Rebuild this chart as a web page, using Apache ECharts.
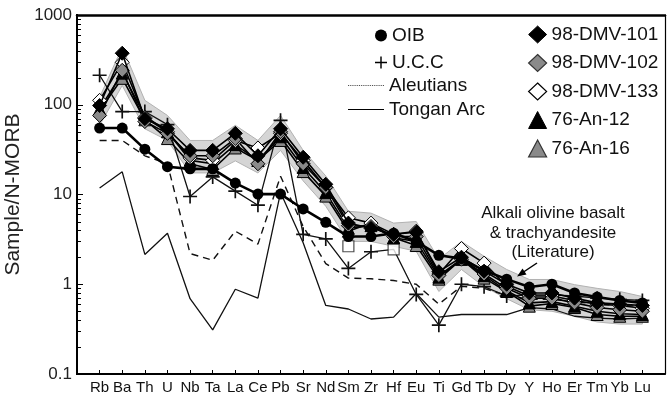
<!DOCTYPE html>
<html>
<head>
<meta charset="utf-8">
<script src="https://cdn.jsdelivr.net/npm/echarts@6/dist/echarts.min.js"></script>
<style>
  html, body { margin: 0; padding: 0; background: #fff; }
  #chart { width: 667px; height: 396px; }
</style>
</head>
<body>
<div id="chart"></div>
<script>
// N-MORB normalised trace-element patterns
const elements = ['Rb','Ba','Th','U','Nb','Ta','La','Ce','Pb','Sr','Nd','Sm','Zr','Hf','Eu','Ti','Gd','Tb','Dy','Y','Ho','Er','Tm','Yb','Lu'];
const yTickLabels = { '0.1': '0.1', '1': '1', '10': '10', '100': '100', '1000': '1000' };

const oib       = [55, 55, 32, 20.4, 19.3, 19.3, 13.4, 10.1, 10.1, 6.9, 4.9, 3.4, 3.4, 3.7, 3.0, 2.1, 1.93, 1.42, 1.14, 0.93, 1.0, 0.8, 0.72, 0.66, 0.62];
const ucc       = [213, 84, 84, 60, 9.5, 15.7, 10.9, 7.6, 67, 3.6, 3.2, 1.5, 2.3, 2.45, 0.77, 0.35, 1.0, 0.94, 0.74, 0.76, 0.76, 0.74, 0.7, 0.68, 0.66];
const aleutians = [40, 40, 27, 22, 2.2, 1.85, 3.9, 2.8, 16, 4.4, 1.7, 1.17, 1.15, 1.1, 1.0, 0.6, 0.95, 0.9, 0.75, 0.68, 0.68, 0.64, 0.6, 0.58, 0.57];
const tongan    = [11.8, 17.9, 2.15, 3.7, 0.69, 0.31, 0.88, 0.70, 10.5, 2.9, 0.58, 0.53, 0.41, 0.43, 0.79, 0.43, 0.46, 0.46, 0.46, 0.55, 0.53, 0.44, 0.42, 0.41, 0.42];

const dmv101 = [98, 375, 70, 54, 31, 31, 48, 27, 54, 26, 13, 4.8, 4.2, 3.6, 3.8, 1.38, 2.0, 1.4, 1.0, 0.8, 0.8, 0.7, 0.62, 0.6, 0.58];
const dmv102 = [76, 242, 65, 48, 27, 27, 42, 22, 50, 22, 12, 4.5, 4.4, 3.4, 3.4, 1.25, 1.9, 1.3, 0.9, 0.7, 0.7, 0.62, 0.55, 0.52, 0.5];
const dmv133 = [112, 297, 72, 50, 25.6, 24, 40, 33, 48, 24, 12, 5.5, 4.8, 3.6, 3.9, 1.3, 2.5, 1.72, 0.95, 0.74, 0.74, 0.66, 0.6, 0.58, 0.54];
const an12   = [90, 225, 75, 50, 24, 22, 36, 24, 44, 20, 10.5, 4.2, 4.5, 3.3, 3.0, 1.2, 1.9, 1.25, 0.85, 0.62, 0.64, 0.57, 0.5, 0.47, 0.46];
const an16   = [86, 197, 68, 42, 22, 19, 33, 24, 40, 18, 9.6, 3.9, 4.8, 3.3, 2.7, 1.14, 1.9, 1.17, 0.83, 0.57, 0.61, 0.55, 0.46, 0.44, 0.44];

// literature field: alkali olivine basalt & trachyandesite
const fieldHigh = [121, 438, 112, 76, 40, 40, 59, 40, 76, 31, 16.1, 6.5, 6.2, 4.8, 5.0, 1.9, 3.0, 2.05, 1.46, 1.13, 1.13, 0.99, 0.9, 0.83, 0.73];
const fieldLow  = [59, 164, 54, 40, 17.4, 17.4, 23.7, 17.4, 31, 14.2, 7.4, 3.0, 3.0, 2.65, 2.33, 0.83, 1.46, 0.94, 0.69, 0.52, 0.5, 0.44, 0.38, 0.36, 0.36];

// open squares (Sm, Hf)
const squareElems  = ['Sm', 'Hf'];
const squareValues = [2.65, 2.45];

const FONT = '"Liberation Sans", Arial, Helvetica, sans-serif';
const PLUS = 'path://M44,0H56V44H100V56H56V100H44V56H0V44H44Z';
const SOLID_ICON = 'path://M0,0H40V1H0Z';
let dots = '';
for (let x = 0; x < 40; x += 2) dots += 'M' + x + ',0H' + (x + 1) + 'V1H' + x + 'Z';
const DOTTED_ICON = 'path://' + dots;

const pairs = vals => vals.map((v, i) => [i, v]);

const chart = echarts.init(document.getElementById('chart'));

function sample(name, vals, symbol, fill, size, z) {
  return {
    name, type: 'line', data: pairs(vals), symbol, symbolSize: size,
    lineStyle: { color: '#000', width: 1.6 },
    itemStyle: { color: fill, borderColor: '#000', borderWidth: 1 },
    z
  };
}

const option = {
  animation: false,
  backgroundColor: '#fff',
  textStyle: { fontFamily: FONT },
  grid: { left: 77, right: 2, top: 15, bottom: 22, containLabel: false, outerBoundsMode: 'none' },
  xAxis: [
    {
      type: 'value', min: -1, max: 25, interval: 1,
      axisLine: { show: true, onZero: false, lineStyle: { color: '#000', width: 2 } },
      axisTick: { show: true, inside: true, length: 4, lineStyle: { color: '#000', width: 1 } },
      axisLabel: { formatter: v => elements[v] || '', fontSize: 15, color: '#111', margin: 6, fontFamily: FONT },
      splitLine: { show: false }
    },
    {
      type: 'value', position: 'top', min: -1, max: 25,
      axisLine: { show: true, onZero: false, lineStyle: { color: '#000', width: 2.5 } },
      axisTick: { show: false }, axisLabel: { show: false }, splitLine: { show: false }
    }
  ],
  yAxis: [
    {
      type: 'log', logBase: 10, min: 0.1, max: 1000, position: 'left',
      name: 'Sample/N-MORB', nameLocation: 'middle', nameGap: 50,
      nameTextStyle: { fontSize: 21, color: '#222', fontFamily: FONT },
      axisLine: { show: true, onZero: false, lineStyle: { color: '#000', width: 2 } },
      axisTick: { show: false },
      axisLabel: {
        fontSize: 17, color: '#222', margin: 5, fontFamily: FONT,
        formatter: v => yTickLabels[String(+Number(v).toPrecision(3))] || ''
      },
      splitLine: { show: false }
    },
    {
      type: 'log', logBase: 10, min: 0.1, max: 1000, position: 'right',
      axisLine: { show: true, onZero: false, lineStyle: { color: '#000', width: 1.2 } },
      axisTick: { show: false }, axisLabel: { show: false }, splitLine: { show: false }
    }
  ],
  legend: [
    {
      orient: 'vertical', left: 370, top: 21, itemGap: 8, itemWidth: 12, itemHeight: 12,
      textStyle: { fontSize: 19, color: '#111', fontFamily: FONT, lineHeight: 18 },
      data: [
        { name: 'OIB', icon: 'circle', itemStyle: { color: '#000', borderWidth: 0 } },
        { name: 'U.C.C', icon: PLUS, itemStyle: { color: '#000', borderWidth: 0 } }
      ]
    },
    {
      orient: 'vertical', left: 343, top: 71, itemGap: 5, itemWidth: 36, itemHeight: 1.3,
      textStyle: { fontSize: 19, color: '#111', fontFamily: FONT, lineHeight: 18 },
      data: [
        { name: 'Aleutians', icon: DOTTED_ICON, itemStyle: { color: '#444', borderWidth: 0 } },
        { name: 'Tongan Arc', icon: SOLID_ICON, itemStyle: { color: '#000', borderWidth: 0 } }
      ]
    },
    {
      orient: 'vertical', left: 523, top: 20, itemGap: 9.5, itemWidth: 18, itemHeight: 17,
      textStyle: { fontSize: 19, color: '#111', fontFamily: FONT, lineHeight: 19 },
      data: [
        { name: '98-DMV-101', icon: 'diamond', itemStyle: { color: '#000', borderColor: '#000', borderWidth: 1 } },
        { name: '98-DMV-102', icon: 'diamond', itemStyle: { color: '#8a8a8a', borderColor: '#333', borderWidth: 1.2 } },
        { name: '98-DMV-133', icon: 'diamond', itemStyle: { color: '#fff', borderColor: '#000', borderWidth: 1.2 } },
        { name: '76-An-12', icon: 'triangle', itemStyle: { color: '#000', borderColor: '#000', borderWidth: 1 } },
        { name: '76-An-16', icon: 'triangle', itemStyle: { color: '#8a8a8a', borderColor: '#333', borderWidth: 1.2 } }
      ]
    }
  ],
  graphic: {
    elements: [
      {
        id: 'note', type: 'text', x: 553, y: 204, z: 50,
        style: {
          text: 'Alkali olivine basalt\n& trachyandesite\n(Literature)',
          font: '17px ' + FONT, fill: '#111', align: 'center', verticalAlign: 'top', lineHeight: 19.5
        }
      },
      {
        id: 'arrowShaft', type: 'line', z: 50, shape: { x1: 537, y1: 263, x2: 522, y2: 273 },
        style: { stroke: '#000', lineWidth: 1.5 }
      },
      {
        id: 'arrowHead', type: 'polygon', z: 50, shape: { points: [[517, 276.5], [522.5, 268.5], [526.5, 274.5]] },
        style: { fill: '#000' }
      }
    ]
  },
  series: [
    {
      name: 'field', type: 'custom', coordinateSystem: 'cartesian2d', silent: true, z: 1,
      data: pairs(fieldHigh),
      renderItem: (params, api) => {
        if (params.dataIndex !== 0) return null;
        const top = fieldHigh.map((v, i) => api.coord([i, v]));
        const bottom = fieldLow.map((v, i) => api.coord([i, v])).reverse();
        return {
          type: 'polygon',
          shape: { points: top.concat(bottom) },
          style: { fill: '#d5d5d5', stroke: '#b2b2b2', lineWidth: 1 }
        };
      }
    },
    {
      name: 'Tongan Arc', type: 'line', data: pairs(tongan), symbol: 'none',
      lineStyle: { color: '#111', width: 1.3 }, itemStyle: { color: '#111' }, z: 3
    },
    {
      name: 'Aleutians', type: 'line', data: pairs(aleutians), symbol: 'none',
      lineStyle: { color: '#111', width: 1.4, type: [7, 5] }, itemStyle: { color: '#111' }, z: 3
    },
    {
      name: 'U.C.C', type: 'line',
      data: ucc.map((v, i) => elements[i] === 'Hf' ? { value: [i, v], symbol: 'none' } : [i, v]),
      symbol: PLUS, symbolSize: 14,
      lineStyle: { color: '#111', width: 1.3 }, itemStyle: { color: '#111' }, z: 4
    },
    {
      name: 'squares', type: 'scatter',
      data: squareElems.map((e, k) => [elements.indexOf(e), squareValues[k]]),
      symbol: 'rect', symbolSize: 11,
      itemStyle: { color: '#fff', borderColor: '#222', borderWidth: 1.2 }, z: 4
    },
    sample('76-An-16', an16, 'triangle', '#8a8a8a', 12, 5),
    sample('76-An-12', an12, 'triangle', '#000', 12, 5),
    sample('98-DMV-133', dmv133, 'diamond', '#fff', 14, 6),
    sample('98-DMV-102', dmv102, 'diamond', '#8a8a8a', 14, 6),
    sample('98-DMV-101', dmv101, 'diamond', '#000', 14, 7),
    {
      name: 'OIB', type: 'line', data: pairs(oib), symbol: 'circle', symbolSize: 11,
      lineStyle: { color: '#000', width: 2.6 }, itemStyle: { color: '#000' }, z: 8
    }
  ]
};

chart.setOption(option);

// left frame edge with inward log ticks, placed through the axis scales on their own layer
const px = (v, fallback) => (Number.isFinite(v) ? v : fallback);
const xLeft = px(chart.convertToPixel({ xAxisIndex: 0 }, -1), 77);
const yTop = px(chart.convertToPixel({ yAxisIndex: 0 }, 1000), 15);
const yBottom = px(chart.convertToPixel({ yAxisIndex: 0 }, 0.1), 374);
const frame = [{
  id: 'leftEdge', type: 'line', z: 60, zlevel: 1,
  shape: { x1: xLeft, y1: yTop - 1, x2: xLeft, y2: yBottom + 1 },
  style: { stroke: '#000', lineWidth: 2 }
}];
for (let k = -1; k <= 3; k++) {
  for (let m = 1; m <= (k < 3 ? 9 : 1); m++) {
    const yv = chart.convertToPixel({ yAxisIndex: 0 }, m * Math.pow(10, k));
    if (!Number.isFinite(yv)) continue;
    const y = Math.round(yv) + 0.5;
    frame.push({
      id: 'tick' + k + '_' + m, type: 'line', z: 60, zlevel: 1,
      shape: { x1: xLeft, y1: y, x2: xLeft + (m === 1 ? 6 : 4), y2: y },
      style: { stroke: '#000', lineWidth: 1 }
    });
  }
}
chart.setOption({ graphic: { elements: frame } });
</script>
</body>
</html>
